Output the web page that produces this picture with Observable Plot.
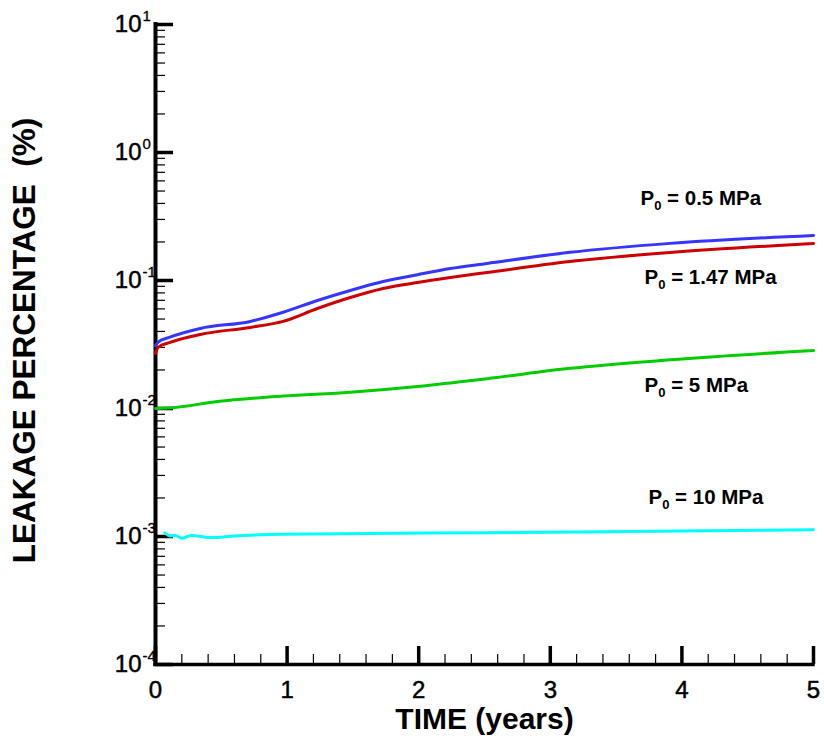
<!DOCTYPE html>
<html><head><meta charset="utf-8">
<script src="https://cdn.jsdelivr.net/npm/d3@7"></script>
<script src="https://cdn.jsdelivr.net/npm/@observablehq/plot@0.6"></script>
<style>
body{margin:0;background:#fff}
svg text{white-space:pre}
</style>
</head><body><div id="chart"></div>
<script>
// ---- data ----
const seriesNames = ["P0 = 0.5 MPa", "P0 = 1.47 MPa", "P0 = 5 MPa", "P0 = 10 MPa"];
const seriesColors = ["#3535ff", "#cc0000", "#00cc00", "#00ffff"];

const timeBlue = [0, 0.02, 0.11, 0.34, 0.72, 0.97, 1.23, 1.48, 1.73, 1.99, 2.24, 2.52, 3.15, 3.91, 5];
const leakBlue = [0.031, 0.033, 0.0361, 0.0422, 0.0479, 0.0565, 0.0698, 0.0836, 0.0982, 0.111, 0.124, 0.136, 0.166, 0.195, 0.225];

const timeRed = [0, 0.02, 0.11, 0.34, 0.72, 0.97, 1.23, 1.48, 1.73, 1.99, 2.24, 2.52, 3.15, 3.91, 5];
const leakRed = [0.0269, 0.030, 0.0328, 0.0379, 0.043, 0.0479, 0.0604, 0.0736, 0.0866, 0.0965, 0.1055, 0.1155, 0.1407, 0.1656, 0.1946];

const timeGreen = [0, 0.15, 0.47, 0.97, 1.48, 1.99, 2.52, 3.15, 3.91, 5];
const leakGreen = [0.0100, 0.0102, 0.01135, 0.0125, 0.0134, 0.01486, 0.0171, 0.0206, 0.024, 0.0284];

const timeCyan = [0.07, 0.11, 0.15, 0.2, 0.27, 0.42, 0.6, 0.97, 2.52, 3.0, 5];
const leakCyan = [0.00107, 0.00101, 0.00102, 0.00097, 0.00102, 0.00098, 0.00101, 0.00104, 0.00107, 0.00108, 0.00113];

const labelTimes = [3.685, 3.716, 3.716, 3.746];
const labelValues = [0.4375, 0.1055, 0.01514, 0.00202];

const yTickExps = [1, 0, -1, -2, -3, -4];
const xTickValues = [0, 1, 2, 3, 4, 5];
const xTitle = "TIME (years)";
const yTitle = "LEAKAGE PERCENTAGE  (%)";

// ---- layout ----
const W = 824, H = 747, mL = 155, mR = 11, mT = 24, mB = 83;
const frameW = W - mL - mR, frameH = H - mT - mB;
const font = "'Liberation Sans', Arial, Helvetica, sans-serif";

const majorY = yTickExps.map(e => 10 ** e);
const minorY = [];
for (let e = -4; e < 1; e++) for (let k = 2; k <= 9; k++) minorY.push(k * 10 ** e);
const majorX = xTickValues;
const minorX = [];
for (let i = 0; i < 25; i++) if (i % 5 !== 0) minorX.push(i / 5);

const chart = Plot.plot({
  width: W, height: H,
  marginLeft: mL, marginRight: mR, marginTop: mT, marginBottom: mB,
  x: {domain: [0, 5], axis: null},
  y: {type: "log", domain: [1e-4, 10], axis: null},
  style: {fontFamily: font, background: "white", color: "black", overflow: "visible"},
  marks: [
    Plot.tickY(minorY, {y: d => d, insetRight: frameW - 10, stroke: "black", strokeWidth: 1.2}),
    Plot.tickY(majorY, {y: d => d, insetRight: frameW - 18, stroke: "black", strokeWidth: 3.5}),
    Plot.tickX(minorX, {x: d => d, insetTop: frameH - 10, stroke: "black", strokeWidth: 1.2}),
    Plot.tickX(majorX, {x: d => d, insetTop: frameH - 18, stroke: "black", strokeWidth: 3.5}),
    Plot.ruleX([0], {stroke: "black", strokeWidth: 4, strokeLinecap: "square"}),
    Plot.ruleY([1e-4], {stroke: "black", strokeWidth: 3.5, strokeLinecap: "square"}),
    Plot.line(leakGreen, {x: timeGreen, y: leakGreen, stroke: seriesColors[2], strokeWidth: 3, curve: "monotone-x"}),
    Plot.line(leakCyan, {x: timeCyan, y: leakCyan, stroke: seriesColors[3], strokeWidth: 3, curve: "monotone-x"}),
    Plot.line(leakRed, {x: timeRed, y: leakRed, stroke: seriesColors[1], strokeWidth: 3, curve: "monotone-x"}),
    Plot.line(leakBlue, {x: timeBlue, y: leakBlue, stroke: seriesColors[0], strokeWidth: 3, curve: "monotone-x"}),
    // y tick labels: "10" + superscript exponent
    Plot.text(yTickExps, {y: e => 10 ** e, text: () => "10", frameAnchor: "left", dx: -14, textAnchor: "end", lineAnchor: "middle", fontSize: 24, fill: "black", stroke: "black", strokeWidth: 0.5}),
    Plot.text(yTickExps, {y: e => 10 ** e, text: e => String(e), frameAnchor: "left", dx: -13, dy: -8, textAnchor: "start", lineAnchor: "middle", fontSize: 15, fill: "black", stroke: "black", strokeWidth: 0.3}),
    // x tick labels
    Plot.text(xTickValues, {x: d => d, text: d => String(d), frameAnchor: "bottom", dy: 26, textAnchor: "middle", lineAnchor: "middle", fontSize: 24, fill: "black", stroke: "black", strokeWidth: 0.5}),
    // series labels
    Plot.text(seriesNames, {x: labelTimes, y: labelValues, text: d => d, textAnchor: "start", lineAnchor: "middle", fontSize: 20.5, fontWeight: "bold", fill: "black"}),
    // axis titles
    Plot.text([xTitle], {text: d => d, frameAnchor: "bottom", dy: 55, textAnchor: "middle", lineAnchor: "middle", fontSize: 30, fontWeight: "bold", fill: "black"}),
    Plot.text([yTitle], {text: d => d, frameAnchor: "left", dx: -131, dy: -4, rotate: -90, textAnchor: "middle", lineAnchor: "middle", fontSize: 31.5, fontWeight: "bold", fill: "black"})
  ]
});

// subscript the "0" in P0 labels
const ns = "http://www.w3.org/2000/svg";
chart.querySelectorAll("text").forEach(t => {
  const s = t.textContent;
  if (/^P0 /.test(s)) {
    while (t.firstChild) t.removeChild(t.firstChild);
    const a = document.createElementNS(ns, "tspan"); a.textContent = "P";
    const b = document.createElementNS(ns, "tspan"); b.textContent = "0";
    b.setAttribute("font-size", "13"); b.setAttribute("dy", "5");
    const c = document.createElementNS(ns, "tspan"); c.textContent = s.slice(2);
    c.setAttribute("dy", "-5");
    t.append(a, b, c);
  }
});
document.getElementById("chart").append(chart);
</script>
</body></html>
